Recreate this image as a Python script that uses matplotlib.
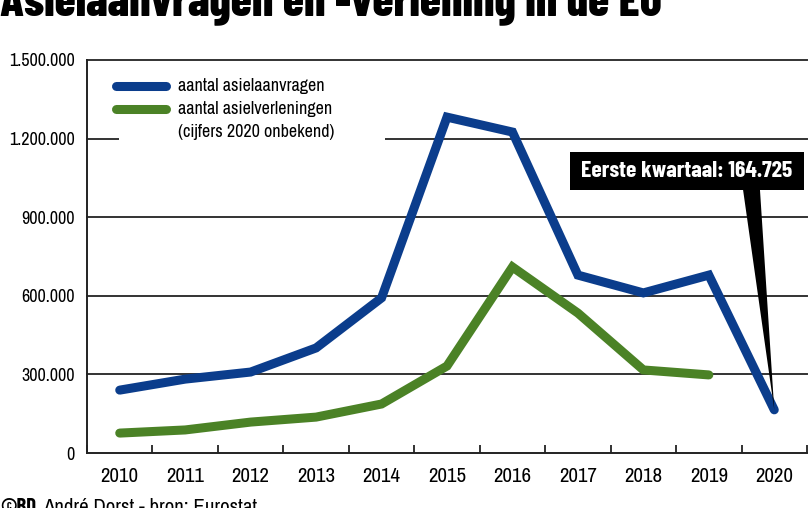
import matplotlib

matplotlib.use("Agg")
import matplotlib.pyplot as plt
from matplotlib.lines import Line2D
from matplotlib.patches import Polygon, Rectangle
import numpy as np

years = [2010, 2011, 2012, 2013, 2014, 2015, 2016, 2017, 2018, 2019, 2020]
aanvragen = [240000, 282000, 309000, 401000, 592000, 1282000, 1225000, 679000, 611000, 679000, 164725]
verleningen = [76000, 88000, 118000, 137000, 187000, 332000, 710000, 534000, 317000, 298000]
yticks = [0, 300000, 600000, 900000, 1200000, 1500000]

BLUE = "#0b3d8c"
GREEN = "#4b8226"
NARROW = ["Archivo Narrow", "DejaVu Sans"]
HEAVY = ["Barlow Condensed", "DejaVu Sans"]

plt.rcParams["font.family"] = NARROW

fig = plt.figure(figsize=(8.12, 5.08), dpi=100)
ax = fig.add_axes([87 / 812, 55 / 508, 720 / 812, 393 / 508])

x = np.arange(len(years))
ax.plot(x, aanvragen, color=BLUE, lw=6.5, solid_capstyle="round", solid_joinstyle="miter", zorder=4)
ax.plot(x[: len(verleningen)], verleningen, color=GREEN, lw=6.5, solid_capstyle="round",
        solid_joinstyle="miter", zorder=4)

ax.set_xlim(-0.5, len(years) - 0.5)
ax.set_ylim(0, 1500000)
ax.set_yticks(yticks)
ax.set_yticklabels([f"{v:,}".replace(",", ".") for v in yticks], fontsize=13)
ax.set_xticks(x)
ax.set_xticklabels([str(y) for y in years], fontsize=15)
ax.set_xticks(np.arange(-0.5, len(years), 1), minor=True)
ax.tick_params(axis="x", which="major", length=0, pad=10)
ax.tick_params(axis="x", which="minor", direction="in", length=6, width=1.3, color="#222222")
ax.tick_params(axis="y", length=0, pad=9)

for s in ("top", "right"):
    ax.spines[s].set_visible(False)
for s in ("left", "bottom"):
    ax.spines[s].set_linewidth(1.4)
    ax.spines[s].set_color("#222222")

for v in yticks[1:]:
    ax.axhline(v, color="#333333", lw=1.4, zorder=1, clip_on=False)

# legend (drawn by hand to match the layout)
ax.add_patch(Rectangle((0.044, 0.76), 0.37, 0.22, transform=ax.transAxes, facecolor="white",
                       edgecolor="none", zorder=2))
ax.add_line(Line2D([0.04, 0.11], [0.934, 0.934], transform=ax.transAxes, color=BLUE, lw=6.5,
                   solid_capstyle="round", zorder=3))
ax.add_line(Line2D([0.04, 0.11], [0.875, 0.875], transform=ax.transAxes, color=GREEN, lw=6.5,
                   solid_capstyle="round", zorder=3))
legend_rows = [(0.934, "aantal asielaanvragen"), (0.875, "aantal asielverleningen"),
               (0.817, "(cijfers 2020 onbekend)")]
for yy, label in legend_rows:
    ax.text(0.126, yy, label, transform=ax.transAxes, fontsize=13, va="center", ha="left", zorder=3)

# callout box
ax.add_patch(Rectangle((6.88, 1003000), 3.57, 146000, facecolor="black", edgecolor="none",
                       zorder=5, clip_on=False))
ax.add_patch(Polygon([(9.52, 1010000), (9.78, 1010000), (x[-1], aanvragen[-1])], closed=True,
                     facecolor="black", edgecolor="none", zorder=5))
ax.text(6.88 + 3.57 / 2, 1003000 + 73000, "Eerste kwartaal: 164.725", color="white",
        fontsize=17, fontweight="bold", family=HEAVY, ha="center", va="center", zorder=6)

fig.text(0.0, 1 - 15 / 508, "Asielaanvragen en -verlening in de EU", fontsize=34,
         fontweight=800, family=HEAVY, ha="left", va="baseline")

renderer = fig.canvas.get_renderer()
t = fig.text(0.0, 1 - 498 / 508, "©BD", fontsize=15, fontweight="bold", family=HEAVY,
             ha="left", va="top")
bb = t.get_window_extent(renderer)
fig.text((bb.x1 + 7) / 812, 1 - 498 / 508, "André Dorst - bron: Eurostat", fontsize=15,
         ha="left", va="top")

fig.savefig("out.png", dpi=100, facecolor="white")
